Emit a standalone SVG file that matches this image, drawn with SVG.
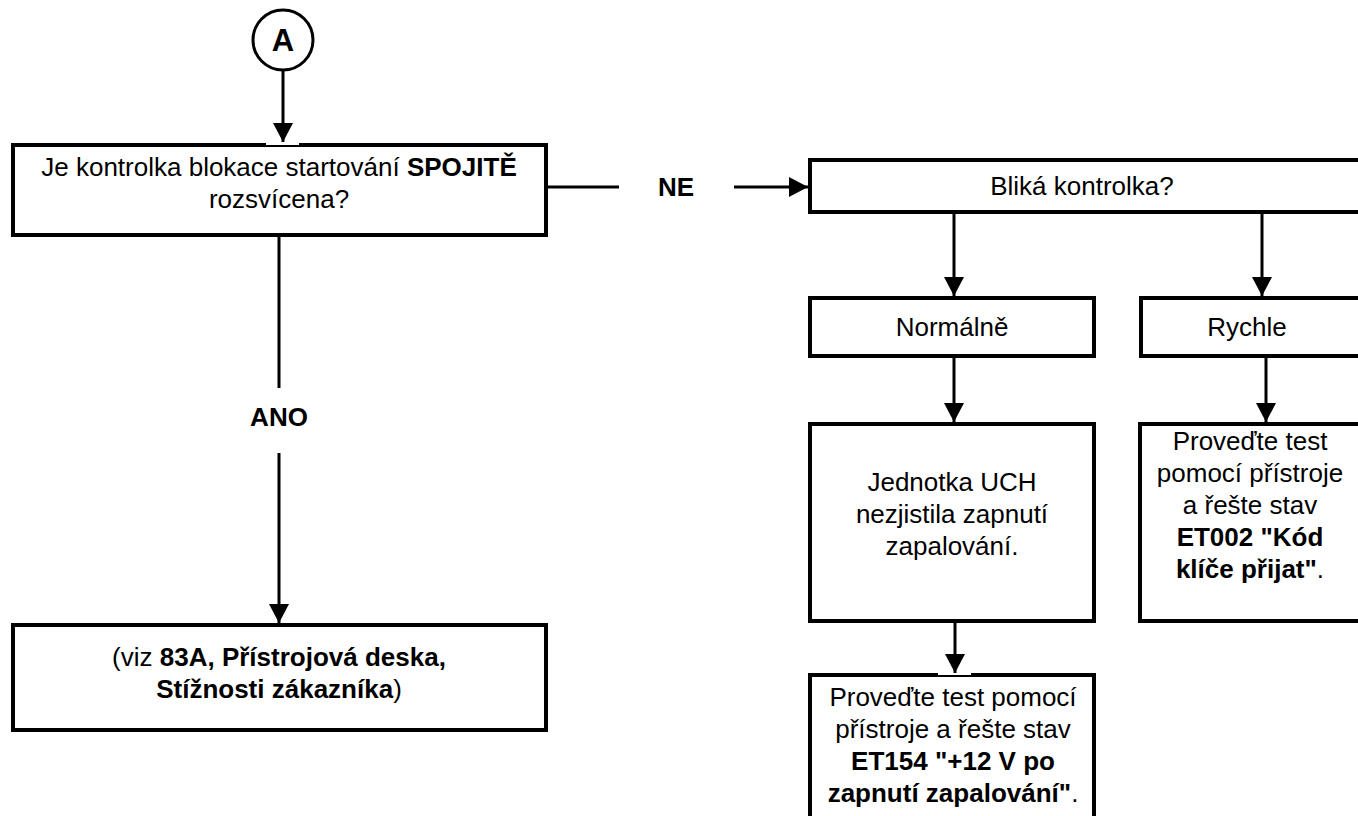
<svg xmlns="http://www.w3.org/2000/svg" width="1358" height="816" viewBox="0 0 1358 816">
<style>
.box{fill:#fff;stroke:#000;stroke-width:4}
.ln{stroke:#000;stroke-width:3;fill:none}
.t{font-family:"Liberation Sans",Arial,sans-serif;font-size:26px;fill:#000;text-anchor:middle}
.b{font-weight:bold}
.gap{fill:#fff}
</style>
<defs>
<marker id="ah" markerUnits="userSpaceOnUse" markerWidth="20" markerHeight="20" refX="19" refY="10" orient="auto">
<path d="M0,0 L19,10 L0,20 Z" fill="#000"/>
</marker>
</defs>
<rect width="1358" height="816" fill="#fff"/>

<g id="nodeA">
<circle cx="283" cy="40" r="30" fill="#fff" stroke="#000" stroke-width="3"/>
<text class="t b" x="283" y="51" style="font-size:31px">A</text>
</g>

<g id="q1">
<rect class="box" x="13" y="145" width="533" height="90"/>
<text class="t" x="279" y="176">Je kontrolka blokace startování <tspan class="b">SPOJITĚ</tspan></text>
<text class="t" x="279" y="208">rozsvícena?</text>
</g>

<g id="q2">
<rect class="box" x="810" y="160" width="570" height="52"/>
<text class="t" x="1082" y="195">Bliká kontrolka?</text>
</g>

<g id="normalne">
<rect class="box" x="810" y="298" width="284" height="58"/>
<text class="t" x="952" y="336">Normálně</text>
</g>

<g id="rychle">
<rect class="box" x="1141" y="298" width="240" height="58"/>
<text class="t" x="1247" y="336">Rychle</text>
</g>

<g id="uch">
<rect class="box" x="810" y="424" width="284" height="197"/>
<text class="t" x="952" y="491">Jednotka UCH</text>
<text class="t" x="952" y="523">nezjistila zapnutí</text>
<text class="t" x="952" y="555">zapalování.</text>
</g>

<g id="et002">
<rect class="box" x="1140" y="424" width="240" height="197"/>
<text class="t" x="1250" y="450">Proveďte test</text>
<text class="t" x="1250" y="482">pomocí přístroje</text>
<text class="t" x="1250" y="514">a řešte stav</text>
<text class="t b" x="1250" y="546">ET002 "Kód</text>
<text class="t" x="1250" y="578"><tspan class="b">klíče přijat"</tspan>.</text>
</g>

<g id="et154">
<rect class="box" x="810" y="675" width="284" height="170"/>
<text class="t" x="953" y="706">Proveďte test pomocí</text>
<text class="t" x="953" y="738">přístroje a řešte stav</text>
<text class="t b" x="953" y="770">ET154 "+12 V po</text>
<text class="t" x="953" y="802"><tspan class="b">zapnutí zapalování"</tspan>.</text>
</g>

<g id="viz83a">
<rect class="box" x="13" y="625" width="533" height="105"/>
<text class="t" x="279" y="666">(viz <tspan class="b">83A, Přístrojová deska,</tspan></text>
<text class="t" x="279" y="698"><tspan class="b">Stížnosti zákazníka</tspan>)</text>
</g>

<g id="connectors">
<rect class="gap" x="266" y="142" width="33" height="3"/>
<rect class="gap" x="938" y="672" width="33" height="3"/>
<line class="ln" x1="283" y1="71" x2="283" y2="142" marker-end="url(#ah)"/>
<line class="ln" x1="546" y1="187" x2="619" y2="187"/>
<text class="t b" x="676" y="196">NE</text>
<line class="ln" x1="734" y1="187" x2="808" y2="187" marker-end="url(#ah)"/>
<line class="ln" x1="279" y1="237" x2="279" y2="388"/>
<text class="t b" x="279" y="426">ANO</text>
<line class="ln" x1="279" y1="453" x2="279" y2="623" marker-end="url(#ah)"/>
<line class="ln" x1="954" y1="214" x2="954" y2="296" marker-end="url(#ah)"/>
<line class="ln" x1="1262" y1="214" x2="1262" y2="296" marker-end="url(#ah)"/>
<line class="ln" x1="954" y1="358" x2="954" y2="422" marker-end="url(#ah)"/>
<line class="ln" x1="1266" y1="358" x2="1266" y2="422" marker-end="url(#ah)"/>
<line class="ln" x1="955" y1="623" x2="955" y2="673" marker-end="url(#ah)"/>
</g>
</svg>
